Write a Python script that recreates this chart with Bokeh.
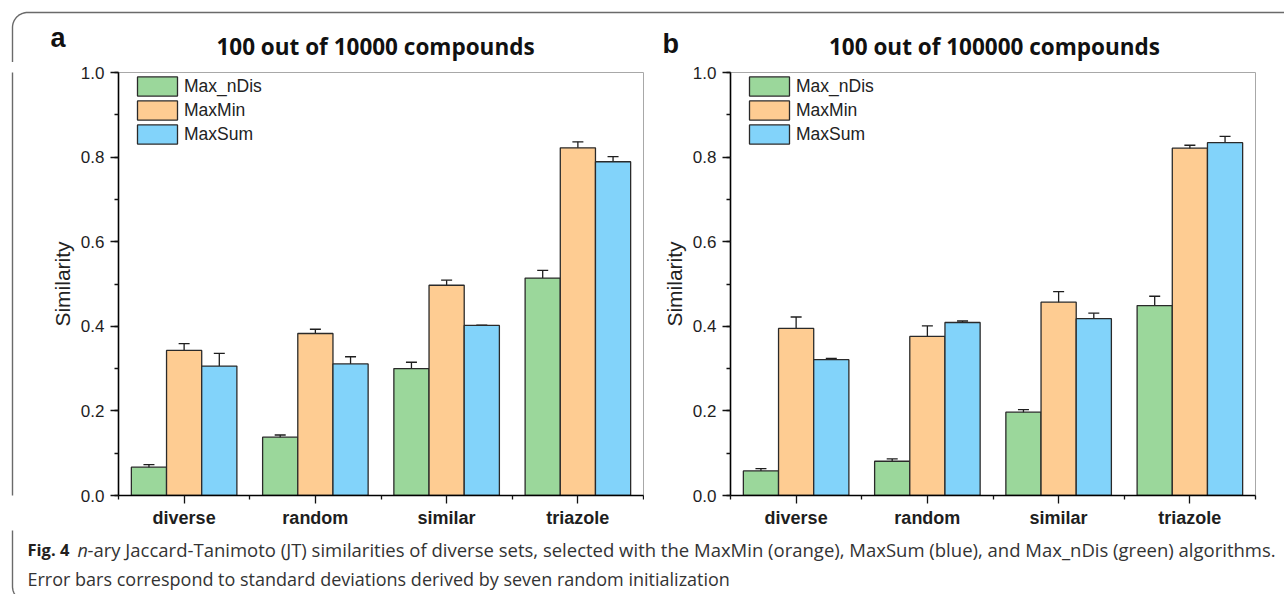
import numpy as np
from bokeh.plotting import figure
from bokeh.layouts import column, row
from bokeh.models import (ColumnDataSource, Range1d, FixedTicker, SingleIntervalTicker,
                          PrintfTickFormatter, Whisker, TeeHead, Legend, LegendItem)
from bokeh.core.properties import value
from bokeh.embed import file_html
from bokeh.resources import INLINE

# ---- data -------------------------------------------------------------
categories = ["diverse", "random", "similar", "triazole"]
series = ["Max_nDis", "MaxMin", "MaxSum"]
colors = ["#9BD79B", "#FECC92", "#82D3FA"]

# (a) 100 out of 10000 compounds
a_max_ndis = [0.067, 0.138, 0.300, 0.514]
a_max_ndis_sd = [0.006, 0.005, 0.015, 0.018]
a_maxmin = [0.343, 0.383, 0.497, 0.822]
a_maxmin_sd = [0.016, 0.010, 0.012, 0.014]
a_maxsum = [0.306, 0.311, 0.402, 0.789]
a_maxsum_sd = [0.030, 0.017, 0.001, 0.012]

# (b) 100 out of 100000 compounds
b_max_ndis = [0.058, 0.081, 0.197, 0.449]
b_max_ndis_sd = [0.0055, 0.0055, 0.006, 0.022]
b_maxmin = [0.395, 0.376, 0.457, 0.821]
b_maxmin_sd = [0.027, 0.025, 0.025, 0.007]
b_maxsum = [0.321, 0.409, 0.418, 0.834]
b_maxsum_sd = [0.003, 0.0035, 0.013, 0.015]

titles = ["100 out of 10000 compounds", "100 out of 100000 compounds"]
panel_letters = ["a", "b"]
y_label = "Similarity"
caption_bold = "Fig. 4"
caption_italic = "n"
caption_line1 = ("-ary Jaccard-Tanimoto (JT) similarities of diverse sets, selected with the "
                 "MaxMin (orange), MaxSum (blue), and Max_nDis (green) algorithms.")
caption_line2 = "Error bars correspond to standard deviations derived by seven random initialization"

SANS = "Liberation Sans"
OPEN = "Open Sans"
FRAME_COLOR = "#6a6a6a"
BAR_W = 0.268


def blank(width, height, x0, x1, y0, y1):
    """A figure whose data space is plain page pixels (y grows downwards)."""
    f = figure(width=width, height=height, x_range=Range1d(x0, x1), y_range=Range1d(y1, y0),
               title=None, x_axis_type=None, y_axis_type=None, toolbar_location=None,
               output_backend="svg", min_border=0, outline_line_color=None,
               background_fill_color="white", border_fill_color="white")
    f.grid.visible = False
    return f


def style_axis(ax, size):
    ax.axis_line_color = "black"
    ax.axis_line_width = 1.6
    ax.major_tick_out = 8
    ax.major_tick_in = 0
    ax.minor_tick_out = 4
    ax.minor_tick_in = 0
    ax.major_tick_line_color = "#111"
    ax.minor_tick_line_color = "#111"
    ax.major_tick_line_width = 1.3
    ax.minor_tick_line_width = 1.3
    ax.major_label_text_font = SANS
    ax.major_label_text_font_size = size
    ax.major_label_text_color = "#1e1e1e"


def panel(vals, sds, width, left, right):
    n = len(categories)
    centres = np.arange(n) + 0.5          # one unit-wide slot per category
    p = figure(width=width, height=468, x_range=Range1d(0, n), y_range=Range1d(0, 1),
               toolbar_location=None, output_backend="svg",
               min_border_left=left, min_border_right=right,
               min_border_top=10, min_border_bottom=33,
               background_fill_color="white", border_fill_color="white",
               outline_line_color="#a8a8a8", outline_line_width=1)
    p.grid.visible = False

    # bars and error bars, one series at a time
    offsets = [-BAR_W, 0.0, BAR_W]
    items = []
    for name, col, off, v, s in zip(series, colors, offsets, vals, sds):
        v = np.asarray(v)
        s = np.asarray(s)
        src = ColumnDataSource(dict(cat=categories, x=centres + off, top=v,
                                    upper=v + s, lower=v - s))
        r = p.vbar(x="x", top="top", width=BAR_W, source=src, fill_color=col,
                   line_color="#2a2a2a", line_width=1.3)
        items.append(LegendItem(label=name, renderers=[r]))
        w = Whisker(base="x", upper="upper", lower="lower", source=src, dimension="height",
                    line_color="#1e1e1e", line_width=1.3,
                    upper_head=TeeHead(size=11, line_color="#1e1e1e", line_width=1.3),
                    lower_head=TeeHead(size=11, line_color="#1e1e1e", line_width=1.3))
        p.add_layout(w)

    # y axis
    ya = p.yaxis[0]
    ya.ticker = SingleIntervalTicker(interval=0.2, num_minor_ticks=2)
    ya.formatter = PrintfTickFormatter(format="%.1f")
    style_axis(ya, "17px")
    ya.major_label_standoff = 6
    ya.axis_label = y_label
    ya.axis_label_text_font = SANS
    ya.axis_label_text_font_style = "normal"
    ya.axis_label_text_font_size = "21px"
    ya.axis_label_text_color = "#222"
    ya.axis_label_standoff = 4

    # x axis: category names at slot centres, short ticks at slot boundaries
    xa = p.xaxis[0]
    xa.ticker = FixedTicker(ticks=list(centres), minor_ticks=list(range(n + 1)))
    xa.major_label_overrides = {float(c): lab for c, lab in zip(centres, categories)}
    style_axis(xa, "18px")
    xa.major_label_text_font_style = "bold"
    xa.major_label_standoff = 4

    legend = Legend(items=items, location=(14, 349), glyph_width=50, glyph_height=24,
                    spacing=0, padding=0, margin=0, label_standoff=2, label_height=20,
                    label_text_font=SANS, label_text_font_size="17.5px",
                    label_text_color="#222", border_line_color=None,
                    background_fill_alpha=0)
    p.add_layout(legend)
    return p


fig_a = panel([a_max_ndis, a_maxmin, a_maxsum],
              [a_max_ndis_sd, a_maxmin_sd, a_maxsum_sd], 604, 78, 1)
fig_b = panel([b_max_ndis, b_maxmin, b_maxsum],
              [b_max_ndis_sd, b_maxmin_sd, b_maxsum_sd], 640, 86, 29)

# ---- header: rounded frame corner, panel letters, titles ----------------
head = blank(1284, 62, 0, 1284, 0, 62)
t = np.linspace(np.pi, 1.5 * np.pi, 20)
corner_x = list(27 + 15 * np.cos(t))
corner_y = list(27 + 15 * np.sin(t))
head.line(x=[12] + corner_x + [1284], y=[75] + corner_y + [12],
          line_color=FRAME_COLOR, line_width=1.4)
head.text(x=[50], y=[37], text=[panel_letters[0]], text_font=value(SANS),
          text_font_style="bold", text_font_size="27px", text_color="#111",
          text_baseline="middle", text_align="left")
head.text(x=[662], y=[43], text=[panel_letters[1]], text_font=value(SANS),
          text_font_style="bold", text_font_size="27px", text_color="#111",
          text_baseline="middle", text_align="left")
head.text(x=[375, 994], y=[45.5, 45.5], text=titles, text_font=value(OPEN),
          text_font_style="bold", text_font_size="22.5px", text_color="#111",
          text_baseline="middle", text_align="center")

# ---- left strip carrying the frame edge ---------------------------------
strip = blank(40, 468, 0, 40, 62, 530)
strip.line(x=[12, 12], y=[50, 545], line_color=FRAME_COLOR, line_width=1.4)

# ---- caption --------------------------------------------------------------
cap = blank(1284, 64, 0, 1284, 530, 594)
tb = np.linspace(np.pi, 0.5 * np.pi, 20)
cap.line(x=[12, 12] + list(27 + 15 * np.cos(tb)), y=[515, 586] + list(586 + 15 * np.sin(tb)),
         line_color=FRAME_COLOR, line_width=1.4)
cap.text(x=[27], y=[549], text=[caption_bold], text_font=value(OPEN), text_font_style="bold",
         text_font_size="16.5px", text_color="#231f20", text_baseline="middle")
cap.text(x=[77], y=[549], text=[caption_italic], text_font=value(OPEN), text_font_style="italic",
         text_font_size="18px", text_color="#333", text_baseline="middle")
cap.text(x=[87], y=[549], text=[caption_line1], text_font=value(OPEN),
         text_font_size="18.5px", text_color="#333", text_baseline="middle")
cap.text(x=[27], y=[578], text=[caption_line2], text_font=value(OPEN),
         text_font_size="18px", text_color="#333", text_baseline="middle")

layout = column(head, row(strip, fig_a, fig_b, spacing=0), cap, spacing=0)
open("out.html", "w").write(file_html(layout, INLINE))
